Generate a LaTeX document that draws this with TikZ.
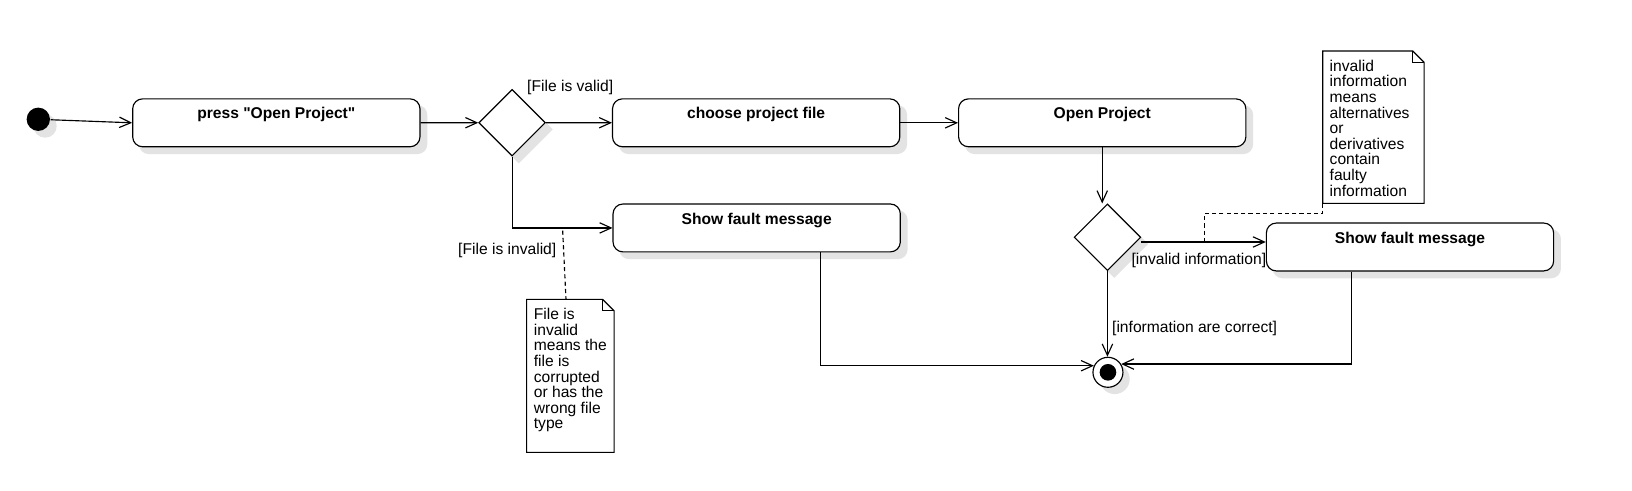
\documentclass[tikz,border=0pt]{standalone}
\usepackage{fontspec}
\setmainfont{Liberation Sans}[Ligatures=TeXOff]
\usetikzlibrary{shapes.geometric,arrows.meta,backgrounds}
\begin{document}
\begin{tikzpicture}[x=1pt,y=-1pt,line width=1.1pt,
  shadowfill/.style={fill=black!11,draw=none},
  actbox/.style={draw,rounded corners=9.5pt,fill=white,minimum width=276pt,minimum height=46pt,inner sep=0pt},
  title/.style={font=\fontsize{15pt}{15pt}\selectfont\bfseries,inner sep=0pt},
  decision/.style={draw,diamond,aspect=1,fill=white,minimum width=64pt,minimum height=64pt,inner sep=0pt},
  guard/.style={font=\fontsize{15pt}{15pt}\selectfont,inner sep=0pt},
  notebox/.style={inner sep=0pt,outer sep=0pt,anchor=north west},
  notetext/.style={font=\fontsize{15pt}{15pt}\selectfont,align=left,inner sep=0pt,anchor=north west},
  arr/.style={-{Straight Barb[length=11pt,width=10pt]}},
  notelink/.style={dash pattern=on 4pt off 3pt}
]
\useasboundingbox (0,0) rectangle (1568,471);

% nodes
\node[circle,fill=black,minimum size=22.4pt,inner sep=0pt] (init) at (36.8,114.6) {};
\node[actbox] (b1) at (265.5,118) {};
\node[title] (t1) at ([yshift=-16pt]b1.north) {press "Open Project"};
\node[decision] (d1) at (492,117.9) {};
\node[actbox] (b2) at (726.5,118) {};
\node[title] (t2) at ([yshift=-16pt]b2.north) {choose project file};
\node[actbox] (b3) at (1059,118) {};
\node[title] (t3) at ([yshift=-16pt]b3.north) {Open Project};
\node[actbox] (b4) at (727,219) {};
\node[title] (t4) at ([yshift=-16pt]b4.north) {Show fault message};
\node[decision] (d2) at (1064,228) {};
\node[actbox] (b5) at (1354.7,237.3) {};
\node[title] (t5) at ([yshift=-16pt]b5.north) {Show fault message};
\node[circle,draw,fill=white,minimum size=28.8pt,inner sep=0pt] (fin) at (1064.5,357.7) {};
\node[circle,fill=black,minimum size=16pt,inner sep=0pt] (fincore) at (fin.center) {};

% shadows and canvas
\begin{scope}[on background layer]
\fill[white] (0,0) rectangle (1568,471);
\foreach \b in {b1,b2,b3,b4,b5}{
  \fill[shadowfill,rounded corners=9.5pt] ([shift={(6.5,6.5)}]\b.south west) rectangle ([shift={(6.5,6.5)}]\b.north east);
}
\foreach \d in {d1,d2}{
  \fill[shadowfill] ([shift={(6.5,6.5)}]\d.north) -- ([shift={(6.5,6.5)}]\d.east) -- ([shift={(6.5,6.5)}]\d.south) -- ([shift={(6.5,6.5)}]\d.west) -- cycle;
}
\fill[shadowfill] ([shift={(6.5,6.5)}]init.center) circle (11.2);
\fill[shadowfill] ([shift={(6.5,6.5)}]fin.center) circle (14.4);
\end{scope}

% notes
\node[notebox,minimum width=84pt,minimum height=147pt] (n1) at (506,287.6) {};
\draw[fill=white] (n1.north west) -- ([xshift=-11pt]n1.north east) -- ([yshift=-11pt]n1.north east) -- (n1.south east) -- (n1.south west) -- cycle;
\draw ([xshift=-11pt]n1.north east) -- ([xshift=-11pt,yshift=-11pt]n1.north east) -- ([yshift=-11pt]n1.north east);
\node[notetext] (n1t) at ([xshift=6.4pt,yshift=-8pt]n1.north west) {File is\\invalid\\means the\\file is\\corrupted\\or has the\\wrong file\\type};

\node[notebox,minimum width=97.5pt,minimum height=146.4pt] (n2) at (1270.8,49) {};
\draw[fill=white] (n2.north west) -- ([xshift=-11pt]n2.north east) -- ([yshift=-11pt]n2.north east) -- (n2.south east) -- (n2.south west) -- cycle;
\draw ([xshift=-11pt]n2.north east) -- ([xshift=-11pt,yshift=-11pt]n2.north east) -- ([yshift=-11pt]n2.north east);
\node[notetext] (n2t) at ([xshift=6.2pt,yshift=-8pt]n2.north west) {invalid\\information\\means\\alternatives\\or\\derivatives\\contain\\faulty\\information};

% connectors
\draw[arr] (init) -- (b1.west);
\draw[arr] (b1) -- (d1);
\draw[arr] (d1) -- (b2);
\draw[arr] (b2) -- (b3);
\draw[arr] (d1.south) |- (b4.west);
\draw[arr] (b3.south) -- (b3.south |- d2.north);
\draw[arr] ([yshift=-4.5pt]d2.east) -- ([yshift=-4.5pt]d2.east -| b5.west);
\draw[arr] (d2.south) -- (d2.south |- fin.north);
\draw[arr] ([xshift=61pt]b4.south) |- (fin.155);
\draw[arr] ([xshift=-56.5pt]b5.south) |- (fin.32);

% note links
\coordinate (c1) at (540.6,221.6);
\draw[notelink] (c1) -- ([xshift=-4.2pt]n1.north);
\coordinate (c2) at (1157,232.5);
\draw[notelink] (n2.south west) -- ++(0,9.6) -| (c2);

% guards
\node[guard,anchor=west] (g1) at (506,84.5) {[File is valid]};
\node[guard,anchor=east] (g2) at (535,241) {[File is invalid]};
\node[guard,anchor=west] (g3) at (1086.7,250.5) {[invalid information]};
\node[guard,anchor=west] (g4) at (1068,315.5) {[information are correct]};
\end{tikzpicture}
\end{document}
